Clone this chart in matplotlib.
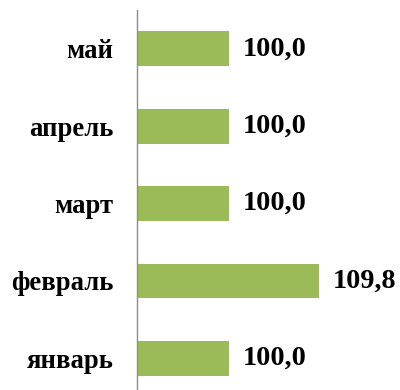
import matplotlib.pyplot as plt

# Данные
mesyacy = ['январь', 'февраль', 'март', 'апрель', 'май']
znacheniya = [100.0, 109.8, 100.0, 100.0, 100.0]
podpisi = ['100,0', '109,8', '100,0', '100,0', '100,0']

plt.rcParams['font.family'] = ['Liberation Serif', 'DejaVu Serif']

fig = plt.figure(figsize=(4.0, 3.9), dpi=100)
ax = fig.add_axes([0.3425, -0.018, 0.6575, 0.992])

y = list(range(len(mesyacy)))
ax.barh(y, [v - 90 for v in znacheniya], left=90, height=0.45, color='#9BBB59')

for yi, v, txt in zip(y, znacheniya, podpisi):
    ax.annotate(txt, (v, yi), xytext=(10, 0), textcoords='offset points',
                va='center', ha='left', fontsize=20.3, fontweight='bold')

ax.set_xlim(90, 118.6)
ax.set_ylim(-0.5, 4.5)
ax.set_yticks(y)
ax.set_yticklabels(mesyacy, fontsize=19.2, fontweight='bold')
ax.tick_params(axis='y', length=0, pad=17)
ax.set_xticks([])

for s in ['top', 'right', 'bottom']:
    ax.spines[s].set_visible(False)
ax.spines['left'].set_color('#8c8c8c')
ax.spines['left'].set_linewidth(1.0)

fig.savefig('out.png', dpi=100)
